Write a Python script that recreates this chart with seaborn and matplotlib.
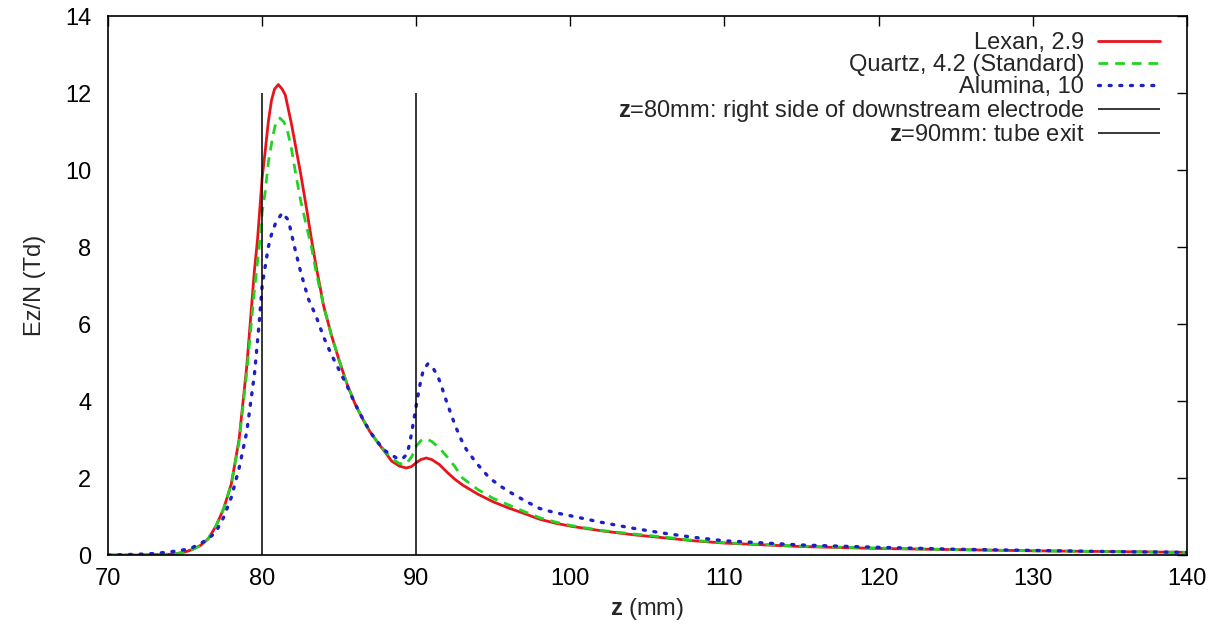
import numpy as np
import pandas as pd
import matplotlib
matplotlib.use("Agg")
import matplotlib.pyplot as plt
import seaborn as sns

# data
z_lexan = [70, 72, 73, 74, 74.5, 75, 75.5, 76, 76.5, 77, 77.5, 78, 78.5, 79, 79.5, 79.7, 80, 80.2, 80.4, 80.6,
           80.8, 81.05, 81.3, 81.5, 81.9, 82.2, 82.5, 82.9, 83.2, 83.5, 84, 84.5, 85, 85.5, 86, 86.5, 87, 87.5,
           88, 88.4, 88.9, 89.35, 89.7, 90, 90.3, 90.65, 91, 91.5, 92, 92.5, 93, 94, 95, 96, 97, 98, 99, 100,
           102, 104, 106, 108, 110, 115, 120, 125, 130, 135, 140]
ez_lexan = [0.0, 0.0, 0.01, 0.02, 0.04, 0.08, 0.15, 0.25, 0.42, 0.75, 1.2, 1.85, 3.0, 4.9, 7.4, 8.2, 9.8, 10.5, 11.25, 11.8,
            12.1, 12.22, 12.1, 11.95, 11.2, 10.55, 9.9, 8.95, 8.2, 7.5, 6.45, 5.7, 5.05, 4.45, 3.95, 3.55, 3.2, 2.92,
            2.66, 2.44, 2.31, 2.26, 2.3, 2.4, 2.48, 2.52, 2.48, 2.35, 2.15, 1.97, 1.82, 1.58, 1.38, 1.22, 1.08, 0.93, 0.83, 0.75,
            0.63, 0.53, 0.45, 0.37, 0.31, 0.22, 0.17, 0.14, 0.11, 0.09, 0.07]

z_quartz = [70, 72, 73, 74, 74.5, 75, 75.5, 76, 76.5, 77, 77.5, 78, 78.5, 79, 79.5, 79.86, 80, 80.2, 80.4, 80.7,
            80.9, 81.15, 81.4, 81.6, 81.9, 82.2, 82.5, 82.9, 83.2, 83.5, 84, 84.5, 85, 85.5, 86, 86.5, 87, 87.5,
            88, 88.5, 88.9, 89.3, 89.7, 90, 90.3, 90.65, 91, 91.5, 92, 92.5, 93, 94, 95, 96, 97, 98, 99, 100,
            102, 104, 106, 108, 110, 115, 120, 125, 130, 135, 140]
ez_quartz = [0.0, 0.0, 0.01, 0.02, 0.04, 0.08, 0.15, 0.25, 0.42, 0.75, 1.2, 1.85, 2.95, 4.75, 6.9, 8.2, 8.9, 9.45, 10.2, 10.9,
             11.25, 11.35, 11.25, 11.1, 10.55, 9.85, 9.2, 8.5, 8.0, 7.35, 6.45, 5.7, 5.05, 4.45, 3.95, 3.55, 3.2, 2.93,
             2.68, 2.48, 2.38, 2.35, 2.55, 2.83, 2.97, 3.02, 2.95, 2.78, 2.55, 2.3, 2.0, 1.7, 1.47, 1.3, 1.13, 0.97, 0.86, 0.77,
             0.64, 0.55, 0.47, 0.38, 0.32, 0.23, 0.18, 0.14, 0.11, 0.09, 0.07]

z_alumina = [70, 71, 72, 73, 74, 74.5, 75, 75.5, 76, 76.5, 77, 77.5, 78, 78.5, 79, 79.5, 79.8, 80, 80.4, 80.6,
             80.85, 81.3, 81.7, 82.1, 82.5, 83, 83.5, 84, 84.5, 85, 85.5, 86, 86.5, 87, 87.5, 88, 88.4, 88.8,
             89.1, 89.4, 89.6, 89.75, 89.9, 90.05, 90.2, 90.45, 90.76, 91.1, 91.4, 91.6, 91.95, 92.4, 92.8, 93.25,
             93.9, 94.75, 95.5, 96, 97, 98, 99, 100, 102, 104, 106, 108, 110, 115, 120, 125, 130, 135, 140]
ez_alumina = [0.0, 0.01, 0.02, 0.04, 0.08, 0.11, 0.14, 0.2, 0.3, 0.42, 0.6, 0.98, 1.5, 2.25, 3.2, 4.7, 6.0, 7.0, 8.0, 8.32,
              8.6, 8.89, 8.7, 8.0, 7.35, 6.65, 6.2, 5.65, 5.2, 4.8, 4.4, 3.95, 3.56, 3.2, 2.93, 2.7, 2.6, 2.5,
              2.5, 2.62, 2.95, 3.3, 3.65, 4.0, 4.35, 4.8, 4.97, 4.85, 4.64, 4.43, 4.0, 3.5, 3.09, 2.74,
              2.39, 2.0, 1.78, 1.65, 1.42, 1.21, 1.1, 1.02, 0.85, 0.7, 0.57, 0.46, 0.37, 0.26, 0.2, 0.15, 0.12, 0.09, 0.07]

series_names = ["Lexan, 2.9", "Quartz, 4.2 (Standard)", "Alumina, 10"]

marker_z = [80, 90]
marker_top = 12
marker_names = [r"$\mathbf{z}$=80mm: right side of downstream electrode",
                r"$\mathbf{z}$=90mm: tube exit"]

sns.set_style("white")
plt.rcParams['font.family'] = ['Liberation Sans', 'DejaVu Sans']
plt.rcParams['mathtext.fontset'] = 'custom'
plt.rcParams['mathtext.rm'] = 'Liberation Sans'
plt.rcParams['mathtext.bf'] = 'Liberation Sans:bold'

fig = plt.figure(figsize=(12.21, 6.30), dpi=100)
ax = fig.add_axes([0.0885, 0.119, 0.8835, 0.8556])

sns.lineplot(x=z_lexan, y=ez_lexan, ax=ax, color="#e8141c", linewidth=2.0,
             label=series_names[0], sort=False)
sns.lineplot(x=z_quartz, y=ez_quartz, ax=ax, color="#22d422", linewidth=2.0,
             linestyle=(0, (3.5, 2.5)), label=series_names[1], sort=False)
sns.lineplot(x=z_alumina, y=ez_alumina, ax=ax, color="#1f1fc8", linewidth=2.4,
             linestyle=(0, (0.6, 2.6)), dash_capstyle="round", label=series_names[2], sort=False)

for zm, name in zip(marker_z, marker_names):
    ax.vlines(zm, 0, marker_top, color="black", linewidth=1.1, label=name)

ax.set_xlim(70, 140)
ax.set_ylim(0, 14)
ax.set_xticks(np.arange(70, 141, 10))
ax.set_yticks(np.arange(0, 15, 2))

for side in ["top", "right", "bottom", "left"]:
    ax.spines[side].set_visible(True)
    ax.spines[side].set_color("black")
    ax.spines[side].set_linewidth(1.2)

ax.tick_params(direction="in", length=7, width=1.0, top=True, right=True,
               labelsize=17, colors="black", pad=12)
ax.tick_params(axis="x", pad=9)

ax.set_xlabel(r"$\mathbf{z}$ (mm)", fontsize=17, labelpad=5)
ax.set_ylabel("Ez/N (Td)", fontsize=17, labelpad=14)

leg = ax.legend(loc="upper right", bbox_to_anchor=(0.988, 0.997), frameon=False,
                markerfirst=False, fontsize=17, handlelength=2.6, handletextpad=0.6,
                labelspacing=0.0, borderaxespad=0.2)

fig.savefig("out.png", dpi=100)
